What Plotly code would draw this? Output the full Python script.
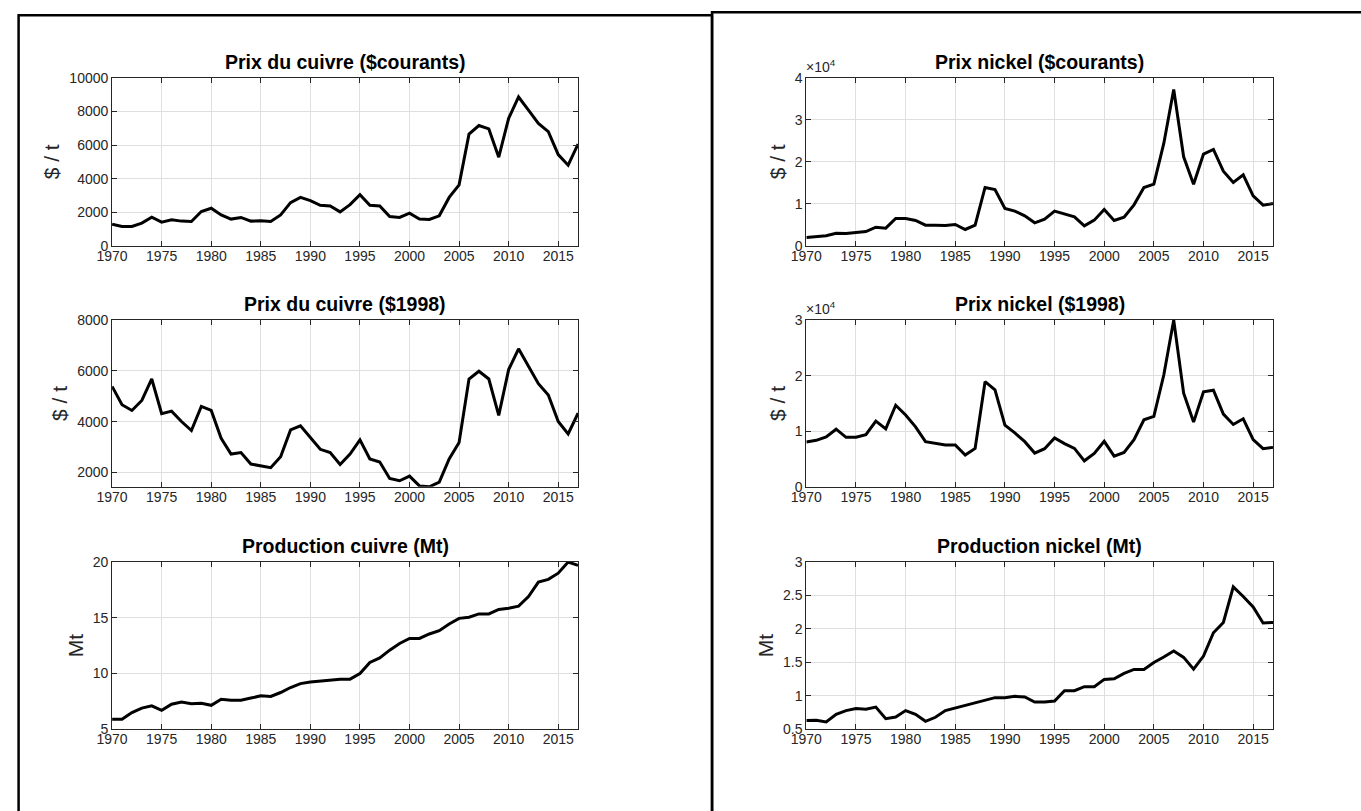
import plotly.graph_objects as go

# Années couvertes par toutes les séries
annees = list(range(1970, 2018))

# Prix du cuivre, dollars courants ($/t)
cuivre_courant = [1290, 1150, 1150, 1350, 1700, 1410, 1550, 1470, 1450, 2040,
                  2235, 1840, 1590, 1690, 1470, 1490, 1450, 1840, 2570, 2880,
                  2690, 2410, 2370, 2020, 2450, 3040, 2410, 2370, 1745, 1690,
                  1940, 1590, 1570, 1785, 2880, 3630, 6650, 7160, 6960, 5275,
                  7590, 8860, 8080, 7290, 6800, 5430, 4800, 6060]

# Prix du cuivre, dollars constants 1998 ($/t)
cuivre_1998 = [5390, 4665, 4440, 4835, 5680, 4310, 4415, 4005, 3650, 4600,
               4440, 3345, 2725, 2780, 2330, 2265, 2185, 2620, 3675, 3835,
               3370, 2910, 2780, 2315, 2725, 3280, 2530, 2410, 1760, 1670,
               1855, 1470, 1435, 1615, 2530, 3175, 5680, 5985, 5680, 4245,
               6050, 6870, 6180, 5495, 5050, 4005, 3515, 4335]

# Production mondiale de cuivre (Mt)
cuivre_prod = [5.9, 5.9, 6.5, 6.9, 7.1, 6.7, 7.25, 7.45, 7.3, 7.33,
               7.15, 7.7, 7.6, 7.6, 7.8, 8.0, 7.95, 8.3, 8.75, 9.1,
               9.25, 9.35, 9.45, 9.5, 9.5, 10.0, 11.0, 11.4, 12.1, 12.7,
               13.15, 13.15, 13.55, 13.85, 14.45, 14.95, 15.05, 15.35, 15.35, 15.75,
               15.85, 16.05, 16.9, 18.2, 18.45, 19.0, 20.0, 19.7]

# Prix du nickel, dollars courants ($/t)
nickel_courant = [1980, 2140, 2380, 3000, 2940, 3170, 3400, 4440, 4200, 6500,
                  6500, 6030, 4920, 4920, 4840, 5080, 3890, 4920, 13900, 13400,
                  8890, 8250, 7140, 5480, 6350, 8250, 7540, 6900, 4760, 6110,
                  8650, 6030, 6830, 9760, 13890, 14680, 24370, 37220, 21190, 14680,
                  21830, 22940, 17780, 15080, 16900, 11900, 9680, 10080]

# Prix du nickel, dollars constants 1998 ($/t)
nickel_1998 = [8060, 8360, 8970, 10360, 8900, 8900, 9390, 11820, 10420, 14670,
               12910, 10790, 8120, 7820, 7520, 7520, 5700, 6910, 18910, 17450,
               11090, 9700, 8120, 6060, 6850, 8790, 7760, 6910, 4670, 6000,
               8180, 5520, 6180, 8480, 12060, 12670, 20120, 30000, 16850, 11640,
               17090, 17390, 13090, 11210, 12240, 8480, 6850, 7090]

# Production mondiale de nickel (Mt)
nickel_prod = [0.63, 0.634, 0.61, 0.724, 0.78, 0.81, 0.80, 0.833, 0.66, 0.684,
               0.78, 0.724, 0.62, 0.68, 0.78, 0.818, 0.863, 0.903, 0.933, 0.973,
               0.973, 0.993, 0.983, 0.908, 0.908, 0.923, 1.077, 1.077, 1.137, 1.137,
               1.246, 1.256, 1.336, 1.395, 1.395, 1.5, 1.58, 1.67, 1.575, 1.4,
               1.595, 1.943, 2.097, 2.63, 2.485, 2.33, 2.09, 2.097]

annees_ticks = list(range(1970, 2016, 5))

# Mise en page exprimée en pixels de l'image finale (1361 x 811) ;
# la page HTML garde la marge de 8 px du <body> autour de la figure.
IMG_W, IMG_H, MARGE = 1361, 811, 8
PAGE_W, PAGE_H = IMG_W + 2 * MARGE, IMG_H + 2 * MARGE
W, H = PAGE_W - MARGE, PAGE_H - MARGE
FONT = "Liberation Sans, Arial, Helvetica, sans-serif"
AXE = "#262626"
GRILLE = "#dfdfdf"


def fx(p):
    """Abscisse en pixels d'image -> fraction du papier."""
    return (p * PAGE_W / IMG_W - MARGE) / W


def fy(p):
    """Ordonnée en pixels d'image (depuis le haut) -> fraction du papier."""
    return 1 - (p * PAGE_H / IMG_H - MARGE) / H


colonnes = {"g": (104, 570), "d": (798.3, 1265)}
lignes = [(77.7, 245.7), (320, 486.7), (562, 729.3)]

# (série, colonne, ligne, titre, étiquette y, bornes y, graduations y, textes, exposant)
graphes = [
    (cuivre_courant, "g", 0, "Prix du cuivre ($courants)", "$ / t",
     [0, 10000], [0, 2000, 4000, 6000, 8000, 10000],
     ["0", "2000", "4000", "6000", "8000", "10000"], False),
    (cuivre_1998, "g", 1, "Prix du cuivre ($1998)", "$ / t",
     [min(cuivre_1998), 8000], [2000, 4000, 6000, 8000],
     ["2000", "4000", "6000", "8000"], False),
    (cuivre_prod, "g", 2, "Production cuivre (Mt)", "Mt",
     [5, 20], [5, 10, 15, 20], ["5", "10", "15", "20"], False),
    (nickel_courant, "d", 0, "Prix nickel ($courants)", "$ / t",
     [0, 40000], [0, 10000, 20000, 30000, 40000], ["0", "1", "2", "3", "4"], True),
    (nickel_1998, "d", 1, "Prix nickel ($1998)", "$ / t",
     [0, 30000], [0, 10000, 20000, 30000], ["0", "1", "2", "3"], True),
    (nickel_prod, "d", 2, "Production nickel (Mt)", "Mt",
     [0.5, 3], [0.5, 1, 1.5, 2, 2.5, 3], ["0.5", "1", "1.5", "2", "2.5", "3"], False),
]

fig = go.Figure()
annotations = []
layout = {}

for i, (serie, col, lig, titre, ylab, yr, yt, ytxt, expo) in enumerate(graphes, start=1):
    xa = "x" if i == 1 else f"x{i}"
    ya = "y" if i == 1 else f"y{i}"
    fig.add_trace(go.Scatter(
        x=annees, y=serie, mode="lines",
        line=dict(color="black", width=3),
        xaxis=xa, yaxis=ya, showlegend=False, cliponaxis=True,
    ))
    x0, x1 = colonnes[col]
    top, bot = lignes[lig]
    axe_commun = dict(
        showline=True, linecolor=AXE, linewidth=1, mirror="ticks",
        ticks="inside", ticklen=5, tickcolor=AXE, tickwidth=1,
        showgrid=True, gridcolor=GRILLE, gridwidth=1, zeroline=False,
        tickfont=dict(family=FONT, size=14, color=AXE),
    )
    layout["xaxis" if i == 1 else f"xaxis{i}"] = dict(
        axe_commun, domain=[fx(x0), fx(x1)], range=[1970, 2017],
        tickvals=annees_ticks, anchor=ya, ticklabelstandoff=-3,
    )
    layout["yaxis" if i == 1 else f"yaxis{i}"] = dict(
        axe_commun, domain=[fy(bot), fy(top)], range=yr,
        tickvals=yt, ticktext=ytxt, anchor=xa,
        title=dict(text=ylab, font=dict(family=FONT, size=21, color=AXE), standoff=3),
    )

    annotations.append(dict(
        text=f"<b>{titre}</b>", xref="paper", yref="paper",
        x=fx((x0 + x1) / 2), y=fy(top - 3), xanchor="center", yanchor="bottom",
        showarrow=False, font=dict(family=FONT, size=19.5, color="black"),
    ))
    if expo:
        annotations.append(dict(
            text="×10<sup>4</sup>", xref="paper", yref="paper",
            x=fx(x0 - 2), y=fy(top - 1), xanchor="left", yanchor="bottom",
            showarrow=False, font=dict(family=FONT, size=14, color=AXE),
        ))

# Cadres des deux panneaux
shapes = [
    dict(type="rect", xref="paper", yref="paper",
         x0=fx(10.5), x1=fx(704), y0=fy(840), y1=fy(15),
         line=dict(color="black", width=2.5), fillcolor="rgba(0,0,0,0)"),
    dict(type="rect", xref="paper", yref="paper",
         x0=fx(704), x1=fx(1400), y0=fy(840), y1=fy(12),
         line=dict(color="black", width=2.5), fillcolor="rgba(0,0,0,0)"),
]

fig.update_layout(
    width=W, height=H, margin=dict(l=0, r=0, t=0, b=0),
    paper_bgcolor="white", plot_bgcolor="white",
    annotations=annotations, shapes=shapes, **layout,
)

fig.write_html("out.html")
